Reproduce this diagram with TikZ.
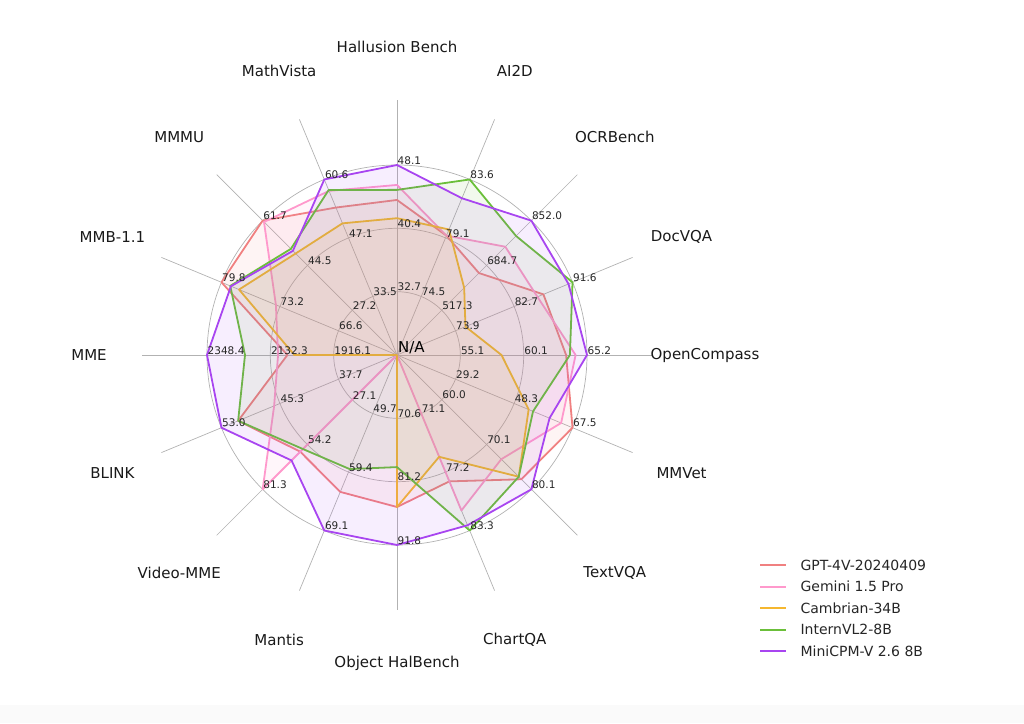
\documentclass[tikz,border=0pt]{standalone}
\usepackage{fontspec}
\setmainfont{DejaVu Sans}
\definecolor{cred}{HTML}{F08080}
\definecolor{cpink}{HTML}{FF99CC}
\definecolor{cyel}{HTML}{F5B72F}
\definecolor{cgrn}{HTML}{6BBF3A}
\definecolor{cpur}{HTML}{A845F0}
\tikzset{
  ser/.style={draw=#1, line width=1.8pt, fill=#1, fill opacity=0.09, draw opacity=1, line join=round},
  grid/.style={draw=black!30, line width=0.7pt},
  tick/.style={anchor=south west, inner sep=0.5pt, font=\fontsize{10.5}{12}\selectfont, text=black!85},
  axlab/.style={font=\fontsize{15}{17}\selectfont, text=black!90},
  leglab/.style={anchor=west, font=\fontsize{14}{16}\selectfont, text=black!85},
  legline/.style={draw=#1, line width=2pt},
}
\newcommand\radarpoly[3]{\draw[ser=#1] (90:{190*#2}) \foreach \v [count=\i] in {#3} { -- ({90-22.5*\i}:{190*\v}) } -- cycle;}
\begin{document}
\begin{tikzpicture}[x=1pt,y=1pt]
\useasboundingbox (0,0) rectangle (1024,723);
\fill[black!2] (0,0) rectangle (1024,18);
\begin{scope}[shift={(397,368)}]
  \foreach \r in {63.3,126.7,190} \draw[grid] (0,0) circle (\r);
  \foreach \i in {0,...,15} \draw[grid] (0,0) -- ({90-22.5*\i}:255);
  \radarpoly{cred}{0.816}{0.68,0.61,0.834,0.89,1.0,0.925,0.72,0.80,0.78,0.72,0.905,0.577,1.0,1.0,0.84}
  \radarpoly{cpink}{0.895}{0.68,0.806,0.80,0.94,0.935,0.776,0.886,0,0,1.0,0.70,0.626,0.69,0.99,0.935}
  \radarpoly{cyel}{0.72}{0.715,0.50,0.39,0.55,0.75,0.906,0.58,0.80,0,0,0,0.54,0.90,0.755,0.75}
  \radarpoly{cgrn}{0.869}{1.0,0.886,1.0,0.91,0.775,0.906,1.0,0.59,0.65,0.70,0.905,0.80,0.95,0.79,0.94}
  \radarpoly{cpur}{1.0}{0.893,1.0,0.977,1.0,0.869,1.0,0.97,1.0,1.0,0.785,1.0,1.0,0.946,0.775,1.0}
  \foreach \a/\b/\cv [count=\i from 0] in {32.7/40.4/48.1, 74.5/79.1/83.6, 517.3/684.7/852.0, 73.9/82.7/91.6, 55.1/60.1/65.2, 29.2/48.3/67.5, 60.0/70.1/80.1, 71.1/77.2/83.3, 70.6/81.2/91.8, 49.7/59.4/69.1, 27.1/54.2/81.3, 37.7/45.3/53.0, 1916.1/2132.3/2348.4, 66.6/73.2/79.8, 27.2/44.5/61.7, 33.5/47.1/60.6} {
    \node[tick] (ta\i) at ({90-22.5*\i}:63.3) {\a};
    \node[tick] (tb\i) at ({90-22.5*\i}:126.7) {\b};
    \node[tick] (tc\i) at ({90-22.5*\i}:190) {\cv};
  }
  \node[anchor=south west, inner sep=1pt, font=\fontsize{15}{17}\selectfont] (na) at (0,0) {N/A};
  \foreach \t [count=\i from 0] in {Hallusion Bench, AI2D, OCRBench, DocVQA, OpenCompass, MMVet, TextVQA, ChartQA, Object HalBench, Mantis, Video-MME, BLINK, MME, MMB-1.1, MMMU, MathVista}
    \node[axlab] (ax\i) at ({90-22.5*\i}:308) {\t};
\end{scope}
\coordinate (la0) at (760,158); \coordinate (lb0) at (786,158);
\coordinate (la1) at (760,136.5); \coordinate (lb1) at (786,136.5);
\coordinate (la2) at (760,115); \coordinate (lb2) at (786,115);
\coordinate (la3) at (760,93.5); \coordinate (lb3) at (786,93.5);
\coordinate (la4) at (760,72); \coordinate (lb4) at (786,72);
\draw[legline=cred] (la0) -- (lb0);
\draw[legline=cpink] (la1) -- (lb1);
\draw[legline=cyel] (la2) -- (lb2);
\draw[legline=cgrn] (la3) -- (lb3);
\draw[legline=cpur] (la4) -- (lb4);
\node[leglab] (lt0) at (797,158) {GPT-4V-20240409};
\node[leglab] (lt1) at (797,136.5) {Gemini 1.5 Pro};
\node[leglab] (lt2) at (797,115) {Cambrian-34B};
\node[leglab] (lt3) at (797,93.5) {InternVL2-8B};
\node[leglab] (lt4) at (797,72) {MiniCPM-V 2.6 8B};
\end{tikzpicture}
\end{document}
